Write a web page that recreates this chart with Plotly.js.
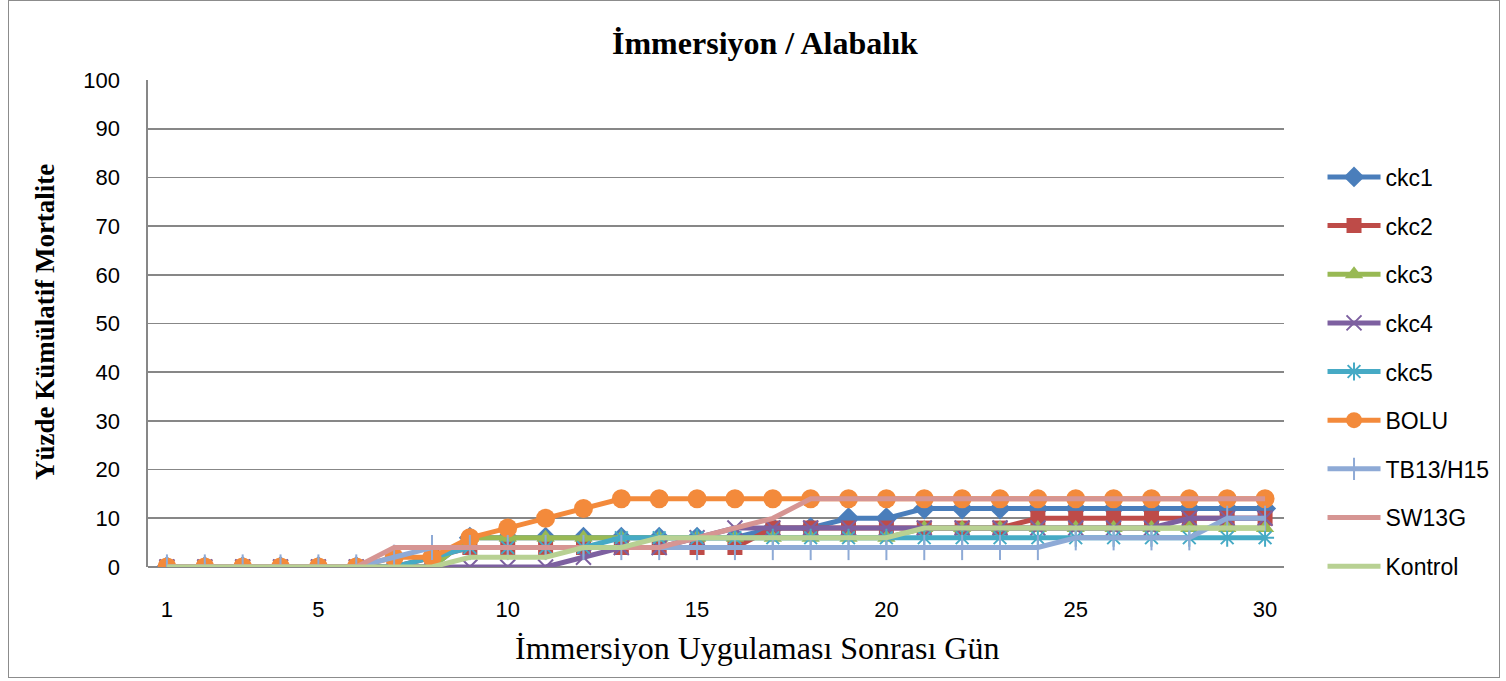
<!DOCTYPE html>
<html>
<head>
<meta charset="utf-8">
<script src="https://cdn.plot.ly/plotly-3.0.1.min.js"></script>
<style>
  html, body { margin: 0; padding: 0; background: #ffffff; }
  #wrap { position: relative; width: 1506px; height: 681px; }
  #chart { position: absolute; left: 0; top: 0; width: 1506px; height: 681px; }
  #frame { position: absolute; left: 8px; top: 0px; width: 1490px; height: 676px; border: 1px solid #8c8c8c; pointer-events: none; }
</style>
</head>
<body>
<div id="wrap">
  <div id="chart"></div>
  <div id="frame"></div>
</div>
<script>
const days = [1,2,3,4,5,6,7,8,9,10,11,12,13,14,15,16,17,18,19,20,21,22,23,24,25,26,27,28,29,30];
const xTickVals = [1,5,10,15,20,25,30];
const xTickText = ["1","5","10","15","20","25","30"];

const ckc1    = [0,0,0,0,0,0,0,0,6,6,6,6,6,6,6,6,8,8,10,10,12,12,12,12,12,12,12,12,12,12];
const ckc2    = [0,0,0,0,0,0,0,2,4,4,4,4,4,4,4,4,8,8,8,8,8,8,8,10,10,10,10,10,10,10];
const ckc3    = [0,0,0,0,0,0,0,0,6,6,6,6,6,6,6,6,6,6,6,6,8,8,8,8,8,8,8,8,8,8];
const ckc4    = [0,0,0,0,0,0,0,0,0,0,0,2,4,4,6,8,8,8,8,8,8,8,8,8,8,8,8,10,10,10];
const ckc5    = [0,0,0,0,0,0,0,2,4,4,4,4,6,6,6,6,6,6,6,6,6,6,6,6,6,6,6,6,6,6];
const bolu    = [0,0,0,0,0,0,2,2,6,8,10,12,14,14,14,14,14,14,14,14,14,14,14,14,14,14,14,14,14,14];
const tb13    = [0,0,0,0,0,0,2,4,4,4,4,4,4,4,4,4,4,4,4,4,4,4,4,4,6,6,6,6,10,10];
const sw13g   = [0,0,0,0,0,0,4,4,4,4,4,4,4,4,6,8,10,14,14,14,14,14,14,14,14,14,14,14,14,14];
const kontrol = [0,0,0,0,0,0,0,0,2,2,2,4,4,6,6,6,6,6,6,6,8,8,8,8,8,8,8,8,8,8];

const chartTitle = "İmmersiyon / Alabalık";
const xTitle = "İmmersiyon Uygulaması Sonrası Gün";
const yTitle = "Yüzde Kümülatif Mortalite";

const seriesNames = ["ckc1","ckc2","ckc3","ckc4","ckc5","BOLU","TB13/H15","SW13G","Kontrol"];
const seriesData = [ckc1, ckc2, ckc3, ckc4, ckc5, bolu, tb13, sw13g, kontrol];
const colors = ["#4A7EBB","#BE4B48","#98B954","#7D60A0","#46AAC5","#F38A3B","#8EAAD6","#D69593","#B8D193"];
const markers = [
  {symbol: "diamond", size: 17},
  {symbol: "square", size: 15},
  {symbol: "triangle-up", size: 16},
  {symbol: "x-thin-open", size: 15, line: {width: 2}},
  {symbol: "asterisk-open", size: 15, line: {width: 2}},
  {symbol: "circle", size: 19},
  {symbol: "line-ns-open", size: 18, line: {width: 2}},
  null,
  null
];

const traces = seriesNames.map((name, i) => {
  const m = markers[i];
  const t = {
    x: days,
    y: seriesData[i],
    name: name,
    type: "scatter",
    legendgroup: "g" + i,
    line: {color: colors[i], width: 5},
    hoverinfo: "x+y+name"
  };
  if (m) {
    t.mode = "lines+markers";
    const mk = {symbol: m.symbol, size: m.size, color: colors[i]};
    if (m.line) mk.line = {color: colors[i], width: m.line.width};
    t.marker = mk;
  } else {
    t.mode = "lines";
  }
  return t;
});

const serif = "Liberation Serif, Times New Roman, serif";

const layout = {
  width: 1506,
  height: 681,
  paper_bgcolor: "#ffffff",
  plot_bgcolor: "#ffffff",
  margin: {l: 148, r: 221, t: 80, b: 114},
  font: {family: "Liberation Sans, Arial, sans-serif", size: 22, color: "#000000"},
  xaxis: {
    range: [0.5, 30.5],
    tickvals: xTickVals,
    ticktext: xTickText,
    showgrid: false,
    zeroline: false,
    showline: false,
    ticks: "",
    tickfont: {size: 22},
    ticklabelstandoff: 27,
    fixedrange: true
  },
  yaxis: {
    range: [0, 100],
    dtick: 10,
    tick0: 0,
    showgrid: true,
    gridcolor: "#878787",
    gridwidth: 1.6,
    zeroline: true,
    zerolinecolor: "#878787",
    zerolinewidth: 1.6,
    showline: true,
    linecolor: "#878787",
    linewidth: 1.6,
    ticks: "",
    tickfont: {size: 22},
    ticklabelstandoff: 22,
    fixedrange: true
  },
  annotations: [
    {
      text: "<b>" + chartTitle + "</b>",
      xref: "paper", yref: "paper",
      x: 0.5427, y: 1.075, xanchor: "center", yanchor: "middle",
      showarrow: false,
      font: {family: serif, size: 32, color: "#000000"}
    },
    {
      text: xTitle,
      xref: "paper", yref: "paper",
      x: 0.5365, y: -0.166, xanchor: "center", yanchor: "middle",
      showarrow: false,
      font: {family: serif, size: 32, color: "#000000"}
    },
    {
      text: "<b>" + yTitle + "</b>",
      xref: "paper", yref: "paper",
      x: -0.0906, y: 0.503, xanchor: "center", yanchor: "middle",
      textangle: -90,
      showarrow: false,
      font: {family: serif, size: 27, color: "#000000"}
    }
  ],
  showlegend: true,
  legend: {
    x: 1.033, xanchor: "left",
    y: 0.845, yanchor: "top",
    traceorder: "grouped",
    tracegroupgap: 15.75,
    font: {family: "Liberation Sans, Arial, sans-serif", size: 23, color: "#000000"},
    bgcolor: "rgba(0,0,0,0)",
    itemwidth: 53
  }
};

Plotly.newPlot("chart", traces, layout, {displayModeBar: false, staticPlot: true});
</script>
</body>
</html>
